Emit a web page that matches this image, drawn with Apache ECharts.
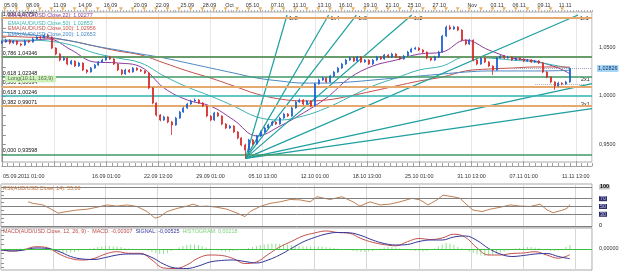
<!DOCTYPE html>
<html><head><meta charset="utf-8">
<script src="https://cdn.jsdelivr.net/npm/echarts@6/dist/echarts.min.js"></script>
<style>html,body{margin:0;padding:0;background:#fff}#c{width:625px;height:273px}</style>
</head><body><div id="c"></div>
<script>
// ---------------- DATA ----------------
// H4 bar index axis: candles every 2 bars (index 0..294)
const openP = [1.0544,1.0554,1.0574,1.0544,1.0564,1.0533,1.0523,1.0564,1.0554,1.0585,
1.0605,1.0595,1.0626,1.0605,1.0492,1.0431,1.0369,1.0390,1.0328,1.0359,
1.0308,1.0339,1.0267,1.0246,1.0287,1.0318,1.0349,1.0369,1.0400,1.0380,
1.0328,1.0267,1.0226,1.0267,1.0246,1.0287,1.0267,1.0257,1.0236,1.0082,
0.9928,0.9805,0.9754,0.9785,0.9733,0.9703,0.9774,0.9836,0.9877,0.9918,
0.9949,0.9959,0.9928,0.9897,0.9795,0.9754,0.9826,0.9795,0.9713,0.9672,
0.9692,0.9631,0.9569,0.9497,0.9446,0.9549,0.9508,0.9590,0.9631,0.9672,
0.9703,0.9733,0.9713,0.9774,0.9815,0.9795,0.9877,0.9939,0.9959,0.9918,
0.9949,0.9897,1.0123,1.0164,1.0185,1.0144,1.0205,1.0246,1.0287,1.0328,
1.0369,1.0390,1.0359,1.0400,1.0349,1.0369,1.0328,1.0369,1.0400,1.0380,
1.0421,1.0400,1.0431,1.0400,1.0380,1.0410,1.0451,1.0482,1.0492,1.0472,
1.0451,1.0390,1.0369,1.0400,1.0451,1.0615,1.0708,1.0687,1.0708,1.0677,
1.0574,1.0533,1.0574,1.0369,1.0328,1.0390,1.0349,1.0308,1.0267,1.0390,
1.0410,1.0390,1.0400,1.0369,1.0390,1.0380,1.0359,1.0369,1.0349,1.0359,
1.0339,1.0246,1.0195,1.0144,1.0103,1.0133,1.0123,1.0144];
const closeP = [1.0554,1.0574,1.0544,1.0564,1.0533,1.0523,1.0564,1.0554,1.0585,1.0605,
1.0595,1.0626,1.0605,1.0492,1.0431,1.0369,1.0390,1.0328,1.0359,1.0308,
1.0339,1.0267,1.0246,1.0287,1.0318,1.0349,1.0369,1.0400,1.0380,1.0328,
1.0267,1.0226,1.0267,1.0246,1.0287,1.0267,1.0257,1.0236,1.0082,0.9928,
0.9805,0.9754,0.9785,0.9733,0.9703,0.9774,0.9836,0.9877,0.9918,0.9949,
0.9959,0.9928,0.9897,0.9795,0.9754,0.9826,0.9795,0.9713,0.9672,0.9692,
0.9631,0.9569,0.9497,0.9446,0.9549,0.9508,0.9590,0.9631,0.9672,0.9703,
0.9733,0.9713,0.9774,0.9815,0.9795,0.9877,0.9939,0.9959,0.9918,0.9949,
0.9897,1.0123,1.0164,1.0185,1.0144,1.0205,1.0246,1.0287,1.0328,1.0369,
1.0390,1.0359,1.0400,1.0349,1.0369,1.0328,1.0369,1.0400,1.0380,1.0421,
1.0400,1.0431,1.0400,1.0380,1.0410,1.0451,1.0482,1.0492,1.0472,1.0451,
1.0390,1.0369,1.0400,1.0451,1.0615,1.0708,1.0687,1.0708,1.0677,1.0574,
1.0533,1.0574,1.0369,1.0328,1.0390,1.0349,1.0308,1.0267,1.0390,1.0410,
1.0390,1.0400,1.0369,1.0390,1.0380,1.0359,1.0369,1.0349,1.0359,1.0339,
1.0246,1.0195,1.0144,1.0103,1.0133,1.0123,1.0144,1.0283];
const highP = [1.0570,1.0588,1.0582,1.0575,1.0570,1.0545,1.0578,1.0572,1.0598,1.0618,
1.0615,1.0640,1.0635,1.0612,1.0500,1.0440,1.0405,1.0398,1.0372,1.0365,
1.0350,1.0345,1.0275,1.0298,1.0330,1.0360,1.0382,1.0415,1.0412,1.0388,
1.0335,1.0275,1.0280,1.0276,1.0298,1.0295,1.0278,1.0265,1.0245,1.0090,
0.9935,0.9815,0.9798,0.9792,0.9745,0.9786,0.9848,0.9890,0.9930,0.9962,
0.9975,0.9968,0.9938,0.9905,0.9802,0.9838,0.9835,0.9802,0.9722,0.9705,
0.9700,0.9640,0.9578,0.9510,0.9562,0.9560,0.9602,0.9645,0.9685,0.9716,
0.9746,0.9742,0.9787,0.9828,0.9825,0.9890,0.9952,0.9972,0.9968,0.9960,
0.9956,1.0136,1.0178,1.0198,1.0192,1.0218,1.0258,1.0300,1.0340,1.0382,
1.0405,1.0398,1.0412,1.0408,1.0380,1.0376,1.0380,1.0412,1.0410,1.0432,
1.0430,1.0444,1.0440,1.0410,1.0422,1.0464,1.0495,1.0505,1.0500,1.0480,
1.0458,1.0398,1.0412,1.0464,1.0628,1.0722,1.0730,1.0720,1.0716,1.0685,
1.0582,1.0588,1.0580,1.0378,1.0402,1.0398,1.0358,1.0315,1.0402,1.0422,
1.0418,1.0412,1.0408,1.0400,1.0398,1.0388,1.0380,1.0378,1.0370,1.0368,
1.0348,1.0255,1.0202,1.0152,1.0146,1.0140,1.0156,1.0292];
const lowP = [1.0535,1.0546,1.0530,1.0536,1.0520,1.0508,1.0515,1.0542,1.0548,1.0578,
1.0585,1.0590,1.0595,1.0480,1.0418,1.0355,1.0360,1.0315,1.0320,1.0298,
1.0300,1.0255,1.0230,1.0240,1.0280,1.0310,1.0340,1.0362,1.0370,1.0318,
1.0255,1.0212,1.0218,1.0236,1.0240,1.0258,1.0246,1.0225,1.0070,0.9915,
0.9790,0.9740,0.9745,0.9720,0.9600,0.9695,0.9765,0.9828,0.9868,0.9910,
0.9940,0.9918,0.9886,0.9782,0.9740,0.9745,0.9785,0.9700,0.9660,0.9662,
0.9620,0.9555,0.9485,0.93598,0.9420,0.9495,0.9500,0.9580,0.9622,0.9662,
0.9694,0.9702,0.9705,0.9765,0.9784,0.9788,0.9870,0.9930,0.9905,0.9910,
0.9885,0.9890,1.0115,1.0155,1.0132,1.0136,1.0196,1.0238,1.0278,1.0320,
1.0360,1.0348,1.0350,1.0338,1.0340,1.0318,1.0320,1.0360,1.0370,1.0372,
1.0390,1.0392,1.0390,1.0368,1.0372,1.0402,1.0444,1.0474,1.0462,1.0440,
1.0378,1.0356,1.0360,1.0392,1.0444,1.0605,1.0676,1.0678,1.0665,1.0560,
1.0520,1.0525,1.0355,1.0315,1.0320,1.0338,1.0296,1.0215,1.0260,1.0382,
1.0380,1.0382,1.0360,1.0360,1.0370,1.0350,1.0350,1.0340,1.0340,1.0328,
1.0235,1.0182,1.0130,1.0062,1.0095,1.0112,1.0114,1.0136];

// EMA samples (bar index, price)
const emaIdx = [0,12,24,36,48,60,72,84,96,108,120,132,144,156,168,180,192,204,216,228,240,252,264,276,288,294];
const ema22 = [1.0564,1.0564,1.0585,1.0472,1.0349,1.0339,1.0298,1.0082,0.9959,0.9897,0.9754,0.9590,0.9692,0.9826,0.9980,1.0185,1.0308,1.0369,1.0431,1.0451,1.0574,1.0472,1.0390,1.0359,1.0287,1.0228];
const ema50 = [1.0574,1.0574,1.0564,1.0523,1.0441,1.0390,1.0339,1.0205,1.0092,1.0000,0.9897,0.9785,0.9754,0.9795,0.9877,0.9990,1.0103,1.0185,1.0267,1.0308,1.0400,1.0390,1.0369,1.0349,1.0308,1.0285];
const ema100 = [1.0615,1.0605,1.0595,1.0564,1.0513,1.0462,1.0421,1.0339,1.0257,1.0185,1.0103,1.0021,0.9969,0.9949,0.9959,1.0000,1.0051,1.0103,1.0154,1.0195,1.0257,1.0277,1.0287,1.0298,1.0298,1.0296];
const ema200 = [1.0656,1.0636,1.0605,1.0564,1.0513,1.0472,1.0431,1.0390,1.0339,1.0287,1.0236,1.0185,1.0154,1.0133,1.0133,1.0144,1.0164,1.0185,1.0205,1.0226,1.0246,1.0257,1.0257,1.0257,1.0260,1.0265];

// Fibonacci levels
const fibValues = [1.07757, 1.0445, 1.04346, 1.02348, 1.00694, 1.00246, 0.99071, 0.93598];
const fibLabels = ['1,000 1,07757', '', '0,786 1,04346', '0,618 1,02348', '0,500 1,00694', '0,618 1,00246', '0,382 0,99071', '0,000 0,93598'];
const fibColors = ['#e3a96f', '#e3a96f', '#3f9868', '#3f9868', '#e3a96f', '#2fb3b3', '#e3a96f', '#3f9868'];

// Gann fan
const gannOrigin = [126.1, 0.93598];
const gannUnit = 0.000855;
const gannTopPrice = 1.0831;
const gannRatios = [8, 4, 3, 2, 1, 1/2, 1/3];
const gannNames = ['1x8', '1x4', '1x3', '1x2', '1x1', '2x1', '3x1'];

const lastPrice = 1.02826;
const longPrice = 1.0120;

// RSI
const rsiIdx = [14,16.5,21.7,25.3,29.5,34.1,39.3,44.4,49.6,54.8,59.9,65.1,70.3,75.5,79.6,82.2,85.8,91,96.1,99.2,
102.8,106.5,111.6,116.8,122,126.1,128.7,133.9,139,144.2,149.4,154.5,159.7,163.3,170,176.2,181.9,185.5,190.7,195.9,
201,206.2,212.4,216.5,220.7,225.3,228.4,233.6,237.2,240.8,243.9,248.6,252.7,257.9,263.1,268.2,273.4,278.6,282.2,285.3,
290.4,292.5,294];
const rsiVal = [62,58,54,45,33,37,41,43,48,54,51,54,50,37,20,24,37,45,51,56,
50,51,48,43,33,24,37,50,58,62,68,67,62,75,68,75,62,51,62,54,
56,62,71,67,54,67,79,75,71,54,41,37,43,48,54,51,50,56,41,34,
41,45,55.06];
const rsiLevels = [100, 70, 50, 30, 0];

// MACD (sampled every 6 bars)
const macdIdx = [0,6,12,18,24,30,36,42,48,54,60,66,72,78,84,90,96,102,108,114,120,126,132,138,144,150,156,162,168,174,180,186,192,198,204,210,216,222,228,234,240,246,252,258,264,270,276,282,288,294];
const macdVal = [-0.00054,-0.00108,-0.00027,0.00124,0.00070,-0.00270,-0.00514,-0.00595,-0.00514,-0.00270,
-0.00146,-0.00232,-0.00232,-0.00595,-0.01027,-0.01054,-0.00865,-0.00486,-0.00324,-0.00351,
-0.00514,-0.00784,-0.00703,-0.00297,0.00108,0.00405,0.00703,0.00865,0.00973,0.00892,
0.00849,0.00568,0.00362,0.00238,0.00173,0.00395,0.00568,0.00514,0.00595,0.00800,
0.00632,0.00054,-0.00324,-0.00324,-0.00243,-0.00216,-0.00146,-0.00324,-0.00497,-0.00307];
const signalVal = [-0.00054,-0.00108,-0.00054,0.00054,0.00027,-0.00135,-0.00405,-0.00541,-0.00568,-0.00459,
-0.00324,-0.00270,-0.00270,-0.00459,-0.00811,-0.01027,-0.01054,-0.00919,-0.00703,-0.00622,
-0.00595,-0.00676,-0.00757,-0.00595,-0.00324,0.00027,0.00378,0.00622,0.00811,0.00892,
0.00876,0.00730,0.00486,0.00297,0.00216,0.00243,0.00405,0.00486,0.00486,0.00649,
0.00703,0.00459,0.00027,-0.00270,-0.00405,-0.00351,-0.00270,-0.00243,-0.00405,-0.00525];
// histogram at candle bars
const histVal = [0.00016,0.00011,0,-0.00011,0.00016,0.00027,0.00032,0.00043,0.00043,0.00027,
0.00011,-0.00027,-0.00065,-0.00108,-0.00162,-0.00189,-0.00216,-0.00216,-0.00189,-0.00162,
-0.00108,-0.00054,-0.00027,0.00027,0.00065,0.00108,0.00135,0.00162,0.00162,0.00135,
0.00135,0.00108,0.00054,0.00027,0.00016,0,-0.00027,-0.00054,-0.00108,-0.00162,
-0.00216,-0.00270,-0.00270,-0.00216,-0.00108,0,0.00081,0.00162,0.00216,0.00243,
0.00243,0.00216,0.00162,0.00081,0.00027,-0.00027,-0.00081,-0.00108,-0.00135,-0.00135,
-0.00108,-0.00081,-0.00054,0,0.00054,0.00108,0.00162,0.00216,0.00243,0.00270,
0.00297,0.00297,0.00270,0.00270,0.00243,0.00216,0.00189,0.00162,0.00135,0.00135,
0.00135,0.00135,0.00135,0.00135,0.00108,0.00081,0.00054,0.00027,0,-0.00027,
-0.00054,-0.00108,-0.00135,-0.00162,-0.00162,-0.00135,-0.00108,-0.00054,0.00027,0.00081,
0.00108,0.00108,0.00081,0.00027,-0.00027,-0.00054,-0.00081,-0.00108,-0.00108,-0.00135,
-0.00108,-0.00054,0.00027,0.00135,0.00243,0.00324,0.00297,0.00216,0.00108,0.00027,
-0.00054,-0.00135,-0.00216,-0.00297,-0.00351,-0.00378,-0.00351,-0.00297,-0.00243,-0.00189,
-0.00135,-0.00081,-0.00027,0.00027,0.00054,0.00081,0.00108,0.00108,0.00081,0.00054,
0,-0.00054,-0.00108,-0.00108,-0.00081,0,0.00108,0.00218];

// time axis labels
const bottomIdx = [0,54,81,108,135,162,189,216,243,270,297];
const bottomText = ['05.09.2011 01:00','16.09 01:00','22.09 13:00','29.09 01:00','05.10 13:00','12.10 01:00','18.10 13:00','25.10 01:00','31.10 13:00','07.11 01:00','11.11 13:00'];
const topIdx = [4.6,16,30,43,56.3,71.8,83.2,96,107.5,117.8,129.7,142.6,154,166.9,177.8,190.7,202,213.4,226.4,243.4,256.3,267.7,280.6,291.5];
const topText = ['05.09','08.09','11.09','14.09','16.09','20.09','22.09','25.09','28.09','Oct','05.10','07.10','11.10','13.10','16.10','19.10','21.10','25.10','27.10','Nov','03.11','06.11','09.11','11.11'];
const priceLabels = [0.95, 1.00, 1.05];
const priceTicks = [0.94,0.95,0.96,0.97,0.98,0.99,1.00,1.01,1.02,1.03,1.04,1.05,1.06,1.07,1.08];

// ---------------- CHART ----------------
const FONT = 'Liberation Sans';
const FS = 5.4;
const XMAX = 305.4;
const chart = echarts.init(document.getElementById('c'), null, {width: 625, height: 273});

const candleIdx = closeP.map((_, k) => 2 * k);
const candleData = candleIdx.map((x, k) => [x, openP[k], closeP[k], lowP[k], highP[k]]);
const pairs = (xs, ys) => xs.map((x, k) => [x, ys[k]]);
const nearest = (arr, v) => { let b = 0; arr.forEach((a, k) => { if (Math.abs(a - v) < Math.abs(arr[b] - v)) b = k; }); return b; };

const emaSeries = [
  ['EMA22', ema22, '#8c3b9c'], ['EMA50', ema50, '#3db3b0'],
  ['EMA100', ema100, '#c4504a'], ['EMA200', ema200, '#4b88c2']
].map(([n, vals, col]) => ({
  name: n, type: 'line', xAxisIndex: 0, yAxisIndex: 0, data: pairs(emaIdx, vals),
  smooth: 0.4, showSymbol: false, symbol: 'none', lineStyle: {color: col, width: 1}, z: 3, silent: true
}));

const gannSeries = gannRatios.map((r, k) => {
  const slope = r * gannUnit;
  let xe = gannOrigin[0] + (gannTopPrice - gannOrigin[1]) / slope;
  let ye = gannTopPrice;
  if (xe > XMAX) { xe = XMAX; ye = gannOrigin[1] + slope * (XMAX - gannOrigin[0]); }
  const rightSide = xe >= XMAX;
  return {
    type: 'line', xAxisIndex: 0, yAxisIndex: 0, data: [gannOrigin, [xe, ye]],
    showSymbol: false, symbol: 'none', lineStyle: {color: '#1e9f9f', width: 1.2}, z: 4, silent: true,
    endLabel: {show: true, formatter: gannNames[k], fontSize: FS, fontFamily: FONT, color: '#222',
      distance: 2, offset: rightSide ? [-13, -4] : [0, 3]}
  };
});

const fibSeries = {
  type: 'line', xAxisIndex: 0, yAxisIndex: 0, data: [], silent: true,
  markLine: {
    silent: true, symbol: ['none', 'none'], animation: false,
    data: fibValues.map((v, k) => ({
      yAxis: v,
      lineStyle: {color: fibColors[k], width: fibColors[k] === '#e3a96f' ? 2 : 1.5, type: 'solid'},
      label: {show: !!fibLabels[k], formatter: fibLabels[k], position: 'insideStartTop', distance: 1,
        fontSize: FS, fontFamily: FONT, color: '#111', padding: 0}
    }))
  }, z: 2
};

const option = {
  animation: false,
  backgroundColor: '#ffffff',
  grid: [
    {left: 1, top: 12, width: 591, height: 150, show: true, borderColor: '#a8a8a8', borderWidth: 1, backgroundColor: '#fff'},
    {left: 1, top: 184, width: 591, height: 43, show: true, borderColor: '#a8a8a8', borderWidth: 1},
    {left: 1, top: 228, width: 591, height: 42, show: true, borderColor: '#a8a8a8', borderWidth: 1},
    {left: 1, top: 7, width: 591, height: 4, show: false}
  ],
  xAxis: [
    {gridIndex: 0, type: 'value', min: 0, max: XMAX, interval: 3, position: 'bottom', offset: 4,
      axisLine: {show: true, lineStyle: {color: '#a0a0a0'}},
      axisTick: {show: true, inside: true, length: 3, lineStyle: {color: '#a0a0a0'}},
      axisLabel: {show: false}, splitLine: {show: false}},
    {gridIndex: 0, type: 'value', min: 0, max: XMAX, position: 'bottom', offset: 4,
      axisLine: {show: false},
      axisTick: {show: true, inside: true, length: 5, customValues: [27,54,81,108,135,162,189,216,243,270,297], lineStyle: {color: '#a0a0a0'}},
      axisLabel: {show: true, customValues: bottomIdx, margin: 8, fontSize: FS, fontFamily: FONT, color: '#333',
        formatter: v => { const k = nearest(bottomIdx, v); return k === 0 ? '{f|' + bottomText[k] + '}' : bottomText[k]; },
        rich: {f: {padding: [0, 0, 0, 44], fontSize: FS, fontFamily: FONT, color: '#333'}}},
      splitLine: {show: false}},
    {gridIndex: 0, type: 'value', min: 0, max: XMAX, interval: 27,
      axisLine: {show: false}, axisTick: {show: false}, axisLabel: {show: false},
      splitLine: {show: true, lineStyle: {color: '#e6e6e6', width: 1}}},
    {gridIndex: 0, type: 'value', min: 0, max: XMAX, interval: 1.5, position: 'top',
      axisLine: {show: false},
      axisTick: {show: true, length: 2, lineStyle: {color: '#b0b0b0'}},
      axisLabel: {show: true, customValues: topIdx, margin: 4, fontSize: FS, fontFamily: FONT, color: '#333',
        formatter: v => topText[nearest(topIdx, v)]},
      splitLine: {show: false}},
    {gridIndex: 1, type: 'value', min: 0, max: XMAX, interval: 27,
      axisLine: {show: false}, axisTick: {show: false}, axisLabel: {show: false},
      splitLine: {show: true, lineStyle: {color: '#d8d8d8'}}},
    {gridIndex: 2, type: 'value', min: 0, max: XMAX, interval: 27,
      axisLine: {show: false}, axisTick: {show: false}, axisLabel: {show: false},
      splitLine: {show: true, lineStyle: {color: '#d8d8d8'}}},
    {gridIndex: 3, type: 'value', min: 0, max: XMAX, show: false}
  ],
  yAxis: [
    {gridIndex: 0, type: 'value', position: 'right', min: 0.9323, max: 1.0862, scale: true,
      axisLine: {show: true, lineStyle: {color: '#909090'}},
      axisTick: {show: true, length: 4, customValues: priceTicks, lineStyle: {color: '#909090'}},
      axisLabel: {show: true, customValues: priceLabels, margin: 7, fontSize: FS, fontFamily: FONT, color: '#333',
        formatter: v => v.toFixed(4).replace('.', ',')},
      splitLine: {show: false}},
    {gridIndex: 1, type: 'value', position: 'right', min: -2.6, max: 107.7,
      axisLine: {show: false},
      axisTick: {show: true, length: 3, customValues: [0,10,20,30,40,50,60,70,80,90,100], lineStyle: {color: '#909090'}},
      axisLabel: {show: true, customValues: rsiLevels, margin: 7, fontSize: FS, fontFamily: FONT,
        formatter: v => v === 100 ? '{a|100}' : (v === 0 ? '{c|0}' : '{b|' + v + '}'),
        rich: {
          a: {backgroundColor: '#c8c8c8', color: '#000', fontWeight: 'bold', padding: [0, 1], fontSize: FS, fontFamily: FONT},
          b: {backgroundColor: '#2e2e66', color: '#c8c8ff', padding: [0, 1], fontSize: FS, fontFamily: FONT},
          c: {color: '#000', fontSize: FS, fontFamily: FONT}
        }},
      splitLine: {show: false}},
    {gridIndex: 2, type: 'value', position: 'right', min: -0.01135, max: 0.01135,
      axisLine: {show: false},
      axisTick: {show: true, length: 3, customValues: [-0.01,-0.0075,-0.005,-0.0025,0,0.0025,0.005,0.0075,0.01], lineStyle: {color: '#909090'}},
      axisLabel: {show: true, customValues: [0], margin: 7, fontSize: FS, fontFamily: FONT, color: '#333',
        formatter: () => '0,00000'},
      splitLine: {show: false}},
    {gridIndex: 3, type: 'value', min: 0, max: 1, show: false}
  ],
  series: [
    fibSeries,
    ...emaSeries,
    ...gannSeries,
    {
      name: 'AUD/USD', type: 'candlestick', xAxisIndex: 0, yAxisIndex: 0, data: candleData,
      barWidth: 1.5, z: 5, silent: true,
      itemStyle: {color: '#2060d0', color0: '#d42b2b', borderColor: '#2060d0', borderColor0: '#d42b2b', borderWidth: 0.8},
      markLine: {
        silent: true, symbol: ['none', 'none'], animation: false,
        data: [
          [{coord: [265, lastPrice], lineStyle: {color: '#9aa4b4', type: 'dotted', width: 1},
            label: {show: true, position: 'end', distance: 5, formatter: '1,02826', fontSize: FS, fontFamily: FONT,
              color: '#10306a', backgroundColor: '#a6d6f5', padding: [1, 1]}},
           {coord: [XMAX, lastPrice]}],
          [{coord: [276, longPrice], lineStyle: {color: '#b0b0b0', type: 'dotted', width: 1}, label: {show: false}},
           {coord: [302, longPrice]}]
        ]
      }
    },
    {
      name: 'RSI', type: 'line', xAxisIndex: 4, yAxisIndex: 1, data: pairs(rsiIdx, rsiVal),
      showSymbol: false, symbol: 'none', lineStyle: {color: '#b87443', width: 0.9}, z: 3, silent: true,
      markLine: {silent: true, symbol: ['none', 'none'], animation: false, label: {show: false},
        lineStyle: {color: '#808080', width: 1, type: 'solid'},
        data: rsiLevels.map(v => ({yAxis: v}))}
    },
    {
      name: 'HIST', type: 'bar', xAxisIndex: 5, yAxisIndex: 2, data: pairs(candleIdx, histVal),
      barWidth: 1, itemStyle: {color: '#90e090'}, z: 2, silent: true,
      markLine: {silent: true, symbol: ['none', 'none'], animation: false, label: {show: false},
        lineStyle: {color: '#3fbf3f', width: 1, type: 'solid'}, data: [{yAxis: 0}]}
    },
    {
      name: 'MACD', type: 'line', xAxisIndex: 5, yAxisIndex: 2, data: pairs(macdIdx, macdVal), smooth: 0.4,
      showSymbol: false, symbol: 'none', lineStyle: {color: '#c2504c', width: 1}, z: 4, silent: true
    },
    {
      name: 'SIGNAL', type: 'line', xAxisIndex: 5, yAxisIndex: 2, data: pairs(macdIdx, signalVal), smooth: 0.4,
      showSymbol: false, symbol: 'none', lineStyle: {color: '#34349a', width: 1}, z: 4, silent: true
    },
    {
      name: 'marks', type: 'scatter', xAxisIndex: 6, yAxisIndex: 3, silent: true,
      data: candleIdx.filter(i => i % 6 === 2).map(i => [i, 0.5]),
      symbol: 'triangle', symbolRotate: 180, symbolSize: [4, 3.5], itemStyle: {color: '#e8a040'}
    }
  ],
  graphic: [
    {type: 'text', x: 8, y: 16, style: {text: 'EMA(AUD/USD.Close,22): 1,02277', fill: '#8c3b9c', font: FS + 'px ' + FONT, verticalAlign: 'middle'}, z: 20},
    {type: 'text', x: 8, y: 23.5, style: {text: 'EMA(AUD/USD.Close,50): 1,02853', fill: '#3db3b0', font: FS + 'px ' + FONT, verticalAlign: 'middle'}, z: 20},
    {type: 'text', x: 8, y: 29, style: {text: 'EMA(AUD/USD.Close,100): 1,02956', fill: '#c4504a', font: FS + 'px ' + FONT, verticalAlign: 'middle'}, z: 20},
    {type: 'text', x: 8, y: 34.5, style: {text: 'EMA(AUD/USD.Close,200): 1,02653', fill: '#4b88c2', font: FS + 'px ' + FONT, verticalAlign: 'middle'}, z: 20},
    {type: 'text', x: 5, y: 79, style: {text: 'Long(10.11, 163,9)', fill: '#5a6a5a', font: FS + 'px ' + FONT, verticalAlign: 'middle',
      backgroundColor: '#cdf2b8', padding: [1, 3], borderRadius: 2}, z: 20},
    {type: 'text', x: 3, y: 188.5, style: {text: 'RSI(AUD/USD.Close, 14): 55,06', fill: '#c0703a', font: FS + 'px ' + FONT, verticalAlign: 'middle'}, z: 20},
    {type: 'text', x: 3, y: 231.5, style: {
      text: '{a|MACD(AUD/USD.Close, 12, 26, 9) -  MACD: -0,00307}  {b|SIGNAL: -0,00525}  {c|HISTOGRAM: 0,00218}',
      font: FS + 'px ' + FONT, verticalAlign: 'middle',
      rich: {a: {fill: '#b84a48', font: FS + 'px ' + FONT}, b: {fill: '#34349a', font: FS + 'px ' + FONT}, c: {fill: '#7ccf7c', font: FS + 'px ' + FONT}}
    }, z: 20}
  ]
};
chart.setOption(option);
</script>
</body></html>
